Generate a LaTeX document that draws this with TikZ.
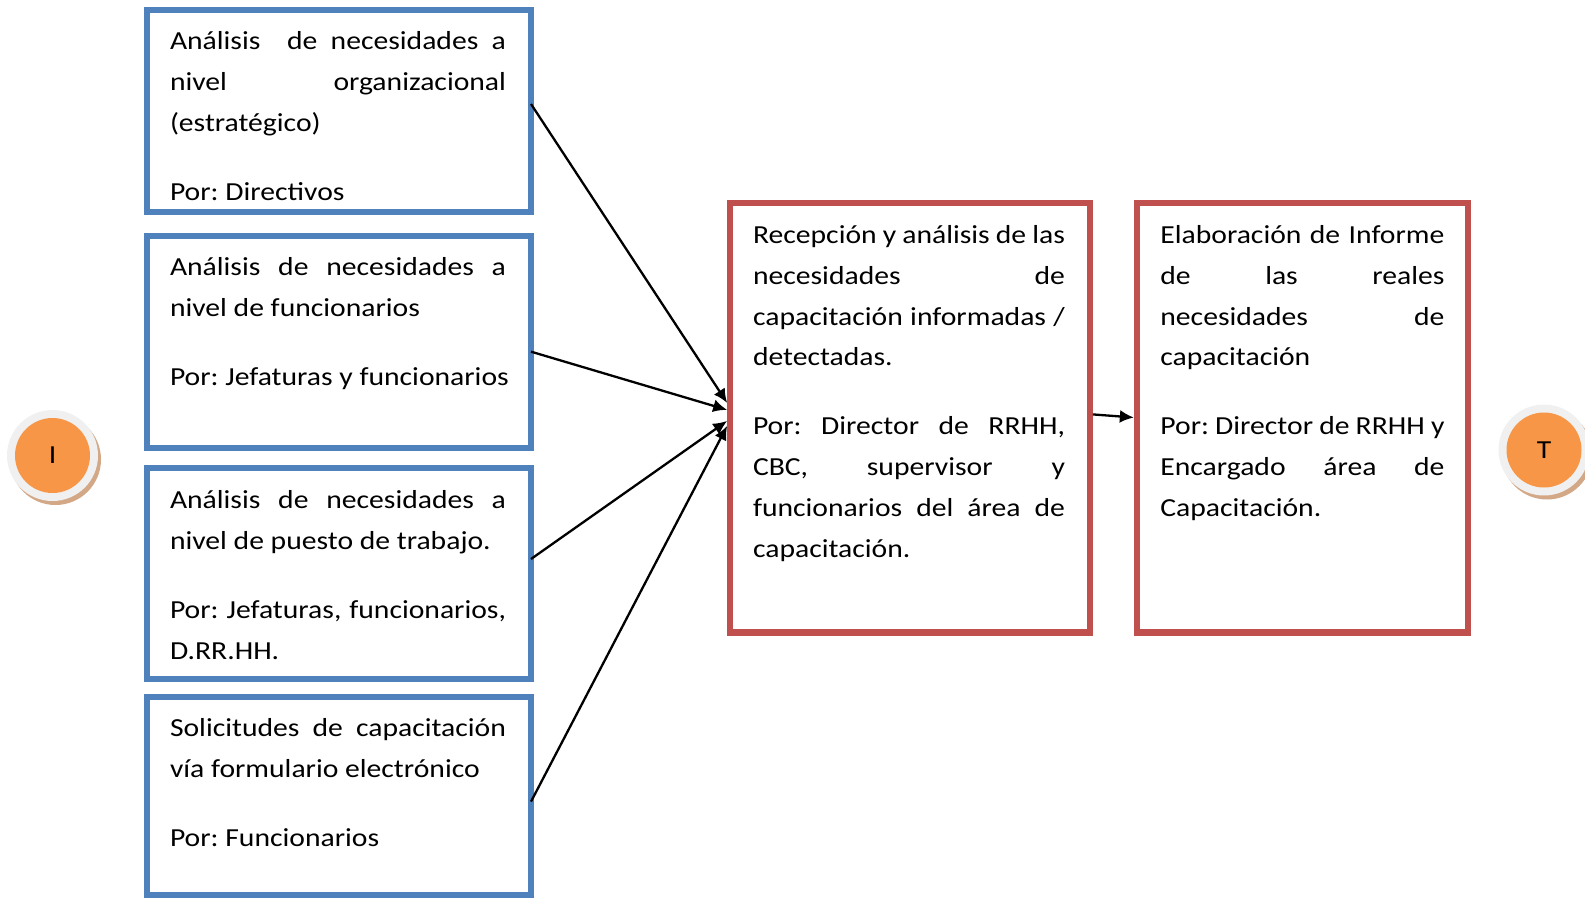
\documentclass[tikz,border=0pt]{standalone}
\usepackage{fontspec}
\setmainfont{Carlito}[FakeStretch=1.14]
\usetikzlibrary{arrows.meta}

\definecolor{boxblue}{HTML}{4F81BD}
\definecolor{boxred}{HTML}{C0504D}
\definecolor{dotorange}{HTML}{F79646}
\definecolor{ringgray}{HTML}{F0F0F0}
\definecolor{shadowbrown}{HTML}{D3A887}

% one justified line of a box text, and the space between paragraphs
\newcommand\jl[1]{\hbox to \linewidth{#1}}
\newcommand\nl[1]{\hbox{#1}}
\newcommand\boxgap{\vskip 27.9pt}
\newcommand\boxtext[2]{\parbox[t]{#1}{\frenchspacing\fontsize{26}{40.9}\selectfont #2}}

\tikzset{
  bluebox/.style={draw=boxblue, line width=6pt, inner sep=0pt, outer sep=0pt},
  redbox/.style={draw=boxred, line width=6.3pt, inner sep=0pt, outer sep=3.15pt},
  txt/.style={anchor=base west, inner sep=0pt, outer sep=0pt},
  arr/.style={line width=2.3pt, -{Latex[length=14pt,width=13pt]}},
  ring/.style={circle, fill=ringgray, minimum size=91pt, inner sep=0pt},
  ringshadow/.style={circle, fill=shadowbrown, minimum size=91pt, inner sep=0pt},
  dot/.style={circle, fill=dotorange, minimum size=75pt, inner sep=0pt,
    font=\fontsize{26}{30}\selectfont}
}

\begin{document}
\begin{tikzpicture}[x=1pt, y=-1pt]
\useasboundingbox (0,0) rectangle (1585,898);

% start and end markers
\node[ringshadow] (s1) at (55.5,459.5) {};
\node[ring] (r1) at (52.5,455.5) {};
\node[dot] (ci) at (52.5,455.5) {I};
\node[ringshadow] (s2) at (1547,454) {};
\node[ring] (r2) at (1544,450) {};
\node[dot] (ct) at (1544,450) {T};

% input boxes
\node[bluebox, minimum width=384.5pt, minimum height=202.5pt] (b1) at (338.75,110.75) {};
\node[bluebox, minimum width=384.5pt, minimum height=212.3pt] (b2) at (338.75,341.65) {};
\node[bluebox, minimum width=384.5pt, minimum height=211pt] (b3) at (338.75,573.5) {};
\node[bluebox, minimum width=384.5pt, minimum height=197.6pt] (b4) at (338.75,795.8) {};

% process boxes
\node[redbox, minimum width=359.4pt, minimum height=429.2pt] (rc) at (910,417.9) {};
\node[redbox, minimum width=330.7pt, minimum height=429.2pt] (rr) at (1302.35,417.9) {};

% texts
\node[txt] (t1) at (170,49.5) {\boxtext{336pt}{%
  \jl{Análisis\ \ de necesidades a}
  \jl{nivel organizacional}
  \nl{(estratégico)}
  \boxgap
  \nl{Por: Directivos}}};
\node[txt] (t2) at (170,275.9) {\boxtext{336pt}{%
  \jl{Análisis de necesidades a}
  \nl{nivel de funcionarios}
  \boxgap
  \nl{Por: Jefaturas y funcionarios}}};
\node[txt] (t3) at (170,508.4) {\boxtext{336pt}{%
  \jl{Análisis de necesidades a}
  \nl{nivel de puesto de trabajo.}
  \boxgap
  \jl{Por: Jefaturas, funcionarios,}
  \nl{D.RR.HH.}}};
\node[txt] (t4) at (170,736.8) {\boxtext{336pt}{%
  \jl{Solicitudes de capacitación}
  \nl{vía formulario electrónico}
  \boxgap
  \nl{Por: Funcionarios}}};
\node[txt] (t5) at (753,243.2) {\boxtext{312pt}{%
  \jl{Recepción y análisis de las}
  \jl{necesidades de}
  \jl{capacitación informadas /}
  \nl{detectadas.}
  \boxgap
  \jl{Por: Director de RRHH,}
  \jl{CBC, supervisor y}
  \jl{funcionarios del área de}
  \nl{capacitación.}}};
\node[txt] (t6) at (1160.4,243.2) {\boxtext{284pt}{%
  \jl{Elaboración de Informe}
  \jl{de las reales}
  \jl{necesidades de}
  \nl{capacitación}
  \boxgap
  \jl{Por: Director de RRHH y}
  \jl{Encargado área de}
  \nl{Capacitación.}}};

% connectors
\draw[arr] ([yshift=6.75pt]b1.east) -- ([yshift=15pt]rc.west);
\draw[arr] ([yshift=-10pt]b2.east) -- ([yshift=8pt]rc.west);
\draw[arr] ([yshift=14.5pt]b3.east) -- ([yshift=-3pt]rc.west);
\draw[arr] ([yshift=-5.8pt]b4.east) -- ([yshift=-8pt]rc.west);
\draw[arr] ([yshift=3.5pt]rc.east) -- ([yshift=0.4pt]rr.west);
\end{tikzpicture}
\end{document}
